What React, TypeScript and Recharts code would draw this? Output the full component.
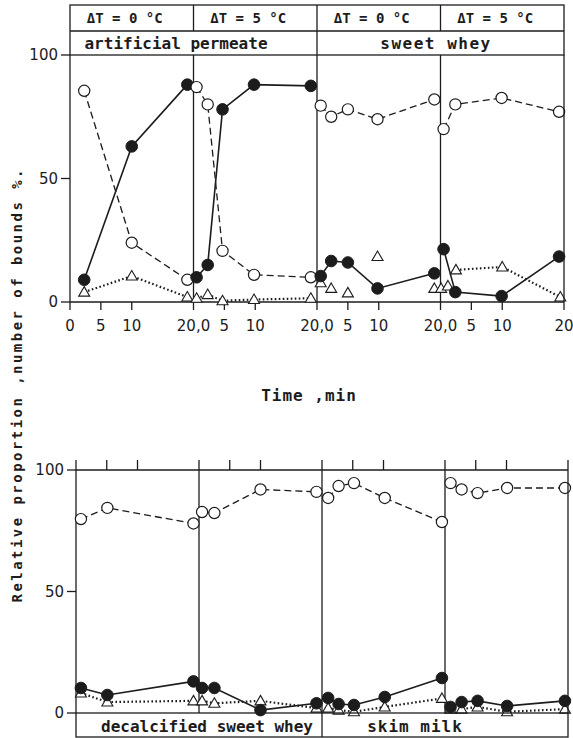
import { LineChart, Line, XAxis, YAxis, ReferenceLine } from 'recharts';

const FONT = '"DejaVu Sans Mono", monospace';
const NUM_FONT = '"DejaVu Sans", sans-serif';
const INK = '#1c1c1c';

// ---- top row: artificial permeate / sweet whey (time in min, % of bounds)
const permeate0Time = [2.3, 10, 19];
const permeate0Filled = [9, 63, 88];
const permeate0Open = [85.5, 24, 9];
const permeate0Tri = [4, 10.5, 2];

const permeate5Time = [0.5, 2.3, 4.7, 9.8, 19];
const permeate5Filled = [10, 15, 78, 88, 87.5];
const permeate5Open = [87, 80, 20.7, 11, 10];
const permeate5Tri = [1.5, 3, 0.5, 1, 1.5];

const whey0Time = [0.6, 2.3, 5, 9.8, 19];
const whey0Filled = [10.5, 16.6, 16, 5.5, 11.6];
const whey0Open = [79.5, 75, 78, 74, 82];
const whey0Tri = [7.8, 5.5, 3.7, 18.4, 5.5];

const whey5Time = [0.5, 2.4, 9.9, 19.2];
const whey5Filled = [21.4, 4, 2.4, 18.4];
const whey5Open = [70, 80, 82.6, 77];
const whey5TriLooseTime = [0.1, 1.2];
const whey5TriLoose = [5.5, 6.5];
const whey5TriTime = [2.5, 10, 19.4];
const whey5Tri = [13, 14.2, 2];

// ---- bottom row: decalcified sweet whey / skim milk
const decalc0Time = [0.8, 5.1, 19.1];
const decalc0Filled = [10.3, 7.4, 13];
const decalc0Open = [79.8, 84.4, 78];
const decalc0Tri = [8.2, 4.5, 5];

const decalc5Time = [0.5, 2.5, 10, 19.1];
const decalc5Filled = [10.3, 10.3, 1.2, 4];
const decalc5Open = [82.7, 82.3, 92, 91];
const decalc5Tri = [5, 4, 5, 2];

const skim0Time = [1, 2.7, 5.2, 10.2, 19.5];
const skim0Filled = [6.2, 3.7, 3.3, 6.6, 14.4];
const skim0Open = [88.5, 93.4, 94.6, 88.5, 78.6];
const skim0Tri = [2, 1.2, 0.5, 2.5, 6];

const skim5Time = [0.9, 2.7, 5.3, 10.1, 19.5];
const skim5Filled = [2.5, 4.5, 5, 2.9, 5];
const skim5Open = [94.6, 92, 90.5, 92.6, 92.6];
const skim5Tri = [1.6, 1.6, 2.5, 0.5, 1.6];

const deltaLabels = ['ΔT = 0 °C', 'ΔT = 5 °C', 'ΔT = 0 °C', 'ΔT = 5 °C'];
const topTicks = [0, 5, 10, 20, 25, 30, 40, 45, 50, 60, 65, 70, 80];
const bottomTicks = [0, 5, 10, 20, 25, 30, 40, 45, 50, 60, 65, 70, 80];
const yTicks = [0, 50, 100];

type Kind = 'filled' | 'open' | 'tri';
type Series = { t: number[]; v: number[]; kind: Kind; linked?: boolean };

const topPanels: Series[][] = [
  [
    { t: permeate0Time, v: permeate0Tri, kind: 'tri' },
    { t: permeate0Time, v: permeate0Open, kind: 'open' },
    { t: permeate0Time, v: permeate0Filled, kind: 'filled' },
  ],
  [
    { t: permeate5Time, v: permeate5Tri, kind: 'tri' },
    { t: permeate5Time, v: permeate5Open, kind: 'open' },
    { t: permeate5Time, v: permeate5Filled, kind: 'filled' },
  ],
  [
    { t: whey0Time, v: whey0Tri, kind: 'tri', linked: false },
    { t: whey0Time, v: whey0Open, kind: 'open' },
    { t: whey0Time, v: whey0Filled, kind: 'filled' },
  ],
  [
    { t: whey5TriLooseTime, v: whey5TriLoose, kind: 'tri', linked: false },
    { t: whey5TriTime, v: whey5Tri, kind: 'tri' },
    { t: whey5Time, v: whey5Open, kind: 'open' },
    { t: whey5Time, v: whey5Filled, kind: 'filled' },
  ],
];

const bottomPanels: Series[][] = [
  [
    { t: decalc0Time, v: decalc0Tri, kind: 'tri' },
    { t: decalc0Time, v: decalc0Open, kind: 'open' },
    { t: decalc0Time, v: decalc0Filled, kind: 'filled' },
  ],
  [
    { t: decalc5Time, v: decalc5Tri, kind: 'tri' },
    { t: decalc5Time, v: decalc5Open, kind: 'open' },
    { t: decalc5Time, v: decalc5Filled, kind: 'filled' },
  ],
  [
    { t: skim0Time, v: skim0Tri, kind: 'tri' },
    { t: skim0Time, v: skim0Open, kind: 'open' },
    { t: skim0Time, v: skim0Filled, kind: 'filled' },
  ],
  [
    { t: skim5Time, v: skim5Tri, kind: 'tri' },
    { t: skim5Time, v: skim5Open, kind: 'open' },
    { t: skim5Time, v: skim5Filled, kind: 'filled' },
  ],
];

// each panel spans 20 min on one shared axis
const flatten = (panels: Series[][]) =>
  panels.flatMap((list, i) =>
    list.map((s) => ({ ...s, pts: s.t.map((t, j) => ({ x: i * 20 + t, v: s.v[j] })) }))
  );

const FilledDot = (p: any) => <circle key={p.index} cx={p.cx} cy={p.cy} r={5.8} fill={INK} stroke={INK} />;
const OpenDot = (p: any) => (
  <circle key={p.index} cx={p.cx} cy={p.cy} r={5.6} fill="#fff" stroke={INK} strokeWidth={1.2} />
);
const TriDot = (p: any) => (
  <path
    key={p.index}
    d={`M${p.cx},${p.cy - 5.5} L${p.cx + 5.5},${p.cy + 4} L${p.cx - 5.5},${p.cy + 4} Z`}
    fill="#fff"
    stroke={INK}
    strokeWidth={1.1}
  />
);

const lineStyle = {
  filled: { strokeWidth: 1.6, strokeDasharray: undefined, dot: FilledDot },
  open: { strokeWidth: 1.3, strokeDasharray: '7 4', dot: OpenDot },
  tri: { strokeWidth: 2.2, strokeDasharray: '1.6 2.4', dot: TriDot },
};

const renderLines = (panels: Series[][]) =>
  flatten(panels).map((s, k) => {
    const st = lineStyle[s.kind];
    return (
      <Line
        key={k}
        data={s.pts}
        dataKey="v"
        type="linear"
        stroke={s.linked === false ? 'none' : INK}
        strokeWidth={st.strokeWidth}
        strokeDasharray={st.strokeDasharray}
        dot={st.dot}
        activeDot={false}
        isAnimationActive={false}
      />
    );
  });

const tickStyle = { fill: INK, fontSize: 15, fontFamily: NUM_FONT };

const topTickLabel = (v: number) => {
  if (v === 20 || v === 40 || v === 60) return '20,0';
  if (v === 80) return '20';
  return String(v % 20);
};

const TOP = { left: 70, right: 564, top: 55, bottom: 302 };
const BOT = { left: 76, right: 568, top: 470, bottom: 713 };
const divX = (b: typeof TOP, k: number) => b.left + ((b.right - b.left) * k) / 4;

const Frames = () => (
  <svg
    width={573}
    height={738}
    style={{ position: 'absolute', left: 0, top: 0, pointerEvents: 'none' }}
    fontFamily={FONT}
  >
    <g stroke={INK} strokeWidth={1.3} fill="none">
      <rect x={TOP.left} y={5} width={TOP.right - TOP.left} height={TOP.top - 5} />
      <line x1={TOP.left} x2={TOP.right} y1={31} y2={31} />
      {[1, 2, 3].map((k) => (
        <line key={k} x1={divX(TOP, k)} x2={divX(TOP, k)} y1={5} y2={31} />
      ))}
      <line x1={divX(TOP, 2)} x2={divX(TOP, 2)} y1={31} y2={TOP.top} />
      <line x1={TOP.right} x2={TOP.right} y1={TOP.top} y2={TOP.bottom} />

      <line x1={BOT.right} x2={BOT.right} y1={BOT.top} y2={BOT.bottom} />
      <rect x={BOT.left} y={BOT.bottom} width={BOT.right - BOT.left} height={24} />
      <line x1={divX(BOT, 2)} x2={divX(BOT, 2)} y1={BOT.bottom} y2={BOT.bottom + 24} />
    </g>
    <g fill={INK} textAnchor="middle" fontWeight="bold">
      {deltaLabels.map((t, k) => (
        <text key={k} x={(divX(TOP, k) + divX(TOP, k + 1)) / 2 - 7} y={18} dy="0.36em" fontSize={14}>
          {t}
        </text>
      ))}
      <text x={176} y={43} dy="0.36em" fontSize={16}>
        artificial permeate
      </text>
      <text x={436} y={43} dy="0.36em" fontSize={16} letterSpacing={1.5}>
        sweet whey
      </text>
      <text x={207} y={726} dy="0.36em" fontSize={16}>
        decalcified sweet whey
      </text>
      <text x={415} y={726} dy="0.36em" fontSize={16} letterSpacing={1}>
        skim milk
      </text>
      <text x={309} y={395} dy="0.36em" fontSize={16} letterSpacing={1}>
        Time ,min
      </text>
      <text
        x={17}
        y={386}
        dy="0.36em"
        fontSize={14}
        transform="rotate(-90 17 386)"
        textLength={433}
        lengthAdjust="spacing"
      >
        Relative proportion ,number of bounds %.
      </text>
    </g>
  </svg>
);

const App = () => {
  return (
    <div style={{ position: 'absolute', left: 0, top: 0, width: 573, height: 738, background: '#fff' }}>
      <div style={{ position: 'absolute', left: 0, top: 0 }}>
        <LineChart width={573} height={345} margin={{ top: 55, right: 9, left: 8, bottom: 13 }}>
          <XAxis
            type="number"
            dataKey="x"
            domain={[0, 80]}
            ticks={topTicks}
            interval={0}
            tickFormatter={topTickLabel}
            tickSize={8}
            tickMargin={10}
            height={30}
            stroke={INK}
            strokeWidth={1.3}
            tick={tickStyle}
          />
          <YAxis
            type="number"
            domain={[0, 100]}
            ticks={yTicks}
            interval={0}
            width={62}
            tickSize={9}
            tickMargin={3}
            stroke={INK}
            strokeWidth={1.3}
            tick={tickStyle}
          />
          {[20, 40, 60].map((x) => (
            <ReferenceLine key={x} x={x} stroke={INK} strokeWidth={1.3} />
          ))}
          {renderLines(topPanels)}
        </LineChart>
      </div>
      <div style={{ position: 'absolute', left: 0, top: 420 }}>
        <LineChart width={573} height={318} margin={{ top: 40, right: 5, left: 8, bottom: 25 }}>
          <XAxis
            orientation="top"
            type="number"
            dataKey="x"
            domain={[0, 80]}
            ticks={bottomTicks}
            interval={0}
            tickFormatter={() => ''}
            tickSize={10}
            height={10}
            stroke={INK}
            strokeWidth={1.3}
          />
          <YAxis
            type="number"
            domain={[0, 100]}
            ticks={yTicks}
            interval={0}
            width={68}
            tickSize={9}
            tickMargin={3}
            stroke={INK}
            strokeWidth={1.3}
            tick={tickStyle}
          />
          {[20, 40, 60].map((x) => (
            <ReferenceLine key={x} x={x} stroke={INK} strokeWidth={1.3} />
          ))}
          {renderLines(bottomPanels)}
        </LineChart>
      </div>
      <Frames />
    </div>
  );
};

export default App;
